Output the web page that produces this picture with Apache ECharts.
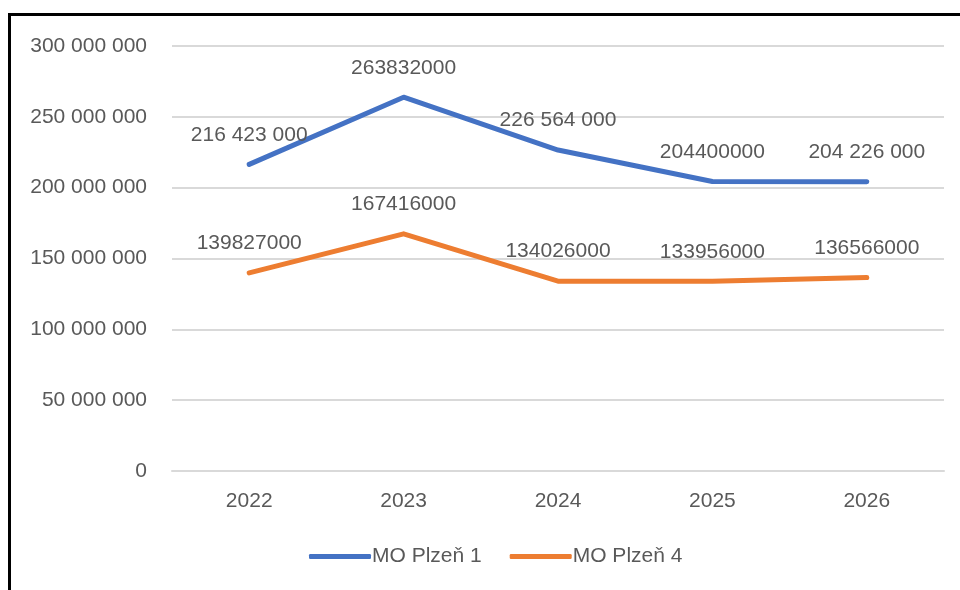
<!DOCTYPE html>
<html>
<head>
<meta charset="utf-8">
<script src="https://cdn.jsdelivr.net/npm/echarts@6/dist/echarts.min.js"></script>
<style>
html, body { margin: 0; padding: 0; background: #fff; }
#chart { width: 960px; height: 590px; }
</style>
</head>
<body>
<div id="chart"></div>
<script>
// roky a hodnoty
var years = ['2022', '2023', '2024', '2025', '2026'];
var plzen1 = [216423000, 263832000, 226564000, 204400000, 204226000];
var plzen4 = [139827000, 167416000, 134026000, 133956000, 136566000];
// popisky tak jak jsou v grafu (nekde s mezerami, nekde bez)
var plzen1Labels = ['216 423 000', '263832000', '226 564 000', '204400000', '204 226 000'];
var plzen4Labels = ['139827000', '167416000', '134026000', '133956000', '136566000'];

var textColor = '#595959';
var font = 'Liberation Sans';

function spaced(v) {
    return String(v).replace(/\B(?=(\d{3})+(?!\d))/g, ' ');
}

var myChart = echarts.init(document.getElementById('chart'));
var option = {
    animation: false,
    textStyle: { fontFamily: font },
    graphic: [{
        type: 'polyline',
        shape: { points: [[9.5, 600], [9.5, 14.5], [960, 14.5]] },
        style: { stroke: '#000', lineWidth: 3, fill: null }
    }],
    grid: {
        left: 172,
        right: 16,
        top: 46,
        bottom: 119
    },
    legend: {
        bottom: 18,
        left: 304,
        itemWidth: 62,
        itemHeight: 5,
        itemGap: 28,
        icon: 'roundRect',
        textStyle: { color: textColor, fontSize: 21, fontFamily: font, padding: [0, 0, 0, -4] },
        data: ['MO Plzeň 1', 'MO Plzeň 4']
    },
    xAxis: {
        type: 'category',
        data: years,
        boundaryGap: true,
        axisLine: { lineStyle: { color: '#d9d9d9', width: 2 } },
        axisTick: { show: false },
        axisLabel: { color: textColor, fontSize: 21, margin: 20 }
    },
    yAxis: {
        type: 'value',
        min: 0,
        max: 300000000,
        interval: 50000000,
        axisLine: { show: false },
        axisTick: { show: false },
        axisLabel: {
            color: textColor,
            fontSize: 21,
            margin: 25,
            formatter: function (v) { return spaced(v); }
        },
        splitLine: { lineStyle: { color: '#d9d9d9', width: 2 } }
    },
    series: [{
        name: 'MO Plzeň 1',
        type: 'line',
        data: plzen1,
        color: '#4472C4',
        symbol: 'circle',
        symbolSize: 0,
        lineStyle: { width: 5, cap: 'round', join: 'round' },
        label: {
            show: true,
            position: 'top',
            distance: 19,
            color: textColor,
            fontSize: 21,
            formatter: function (p) { return plzen1Labels[p.dataIndex]; }
        }
    }, {
        name: 'MO Plzeň 4',
        type: 'line',
        data: plzen4,
        color: '#ED7D31',
        symbol: 'circle',
        symbolSize: 0,
        lineStyle: { width: 5, cap: 'round', join: 'round' },
        label: {
            show: true,
            position: 'top',
            distance: 19,
            color: textColor,
            fontSize: 21,
            formatter: function (p) { return plzen4Labels[p.dataIndex]; }
        }
    }]
};
myChart.setOption(option);
</script>
</body>
</html>
